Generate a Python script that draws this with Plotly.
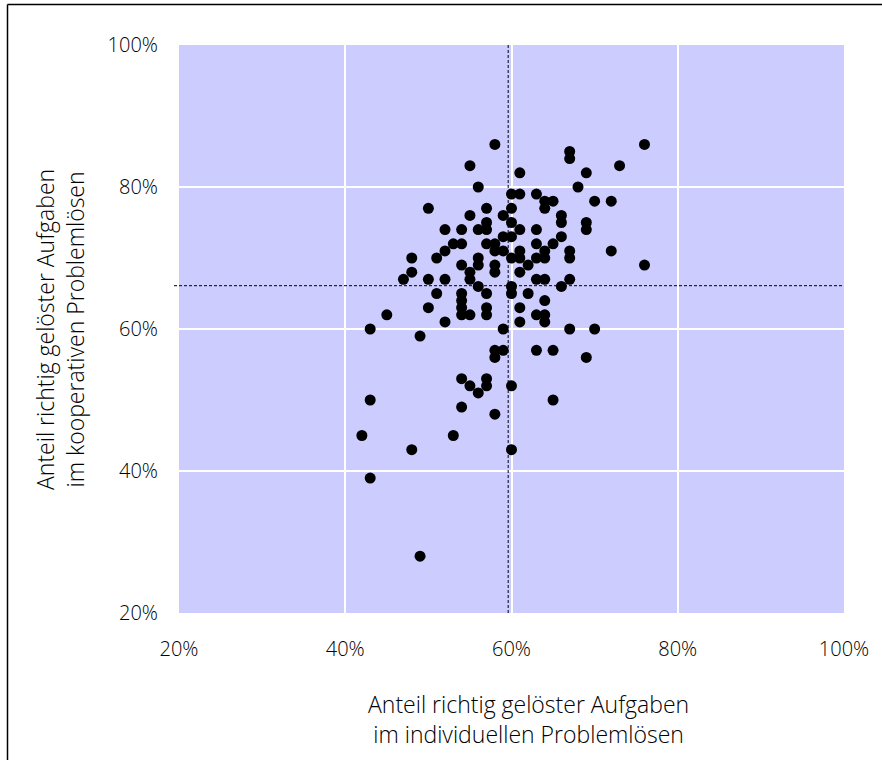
import plotly.graph_objects as go

# Anteil richtig gelöster Aufgaben (in %)
indiv = [58, 55, 56, 60, 61, 50, 57, 60, 55, 59, 57, 60, 52, 54, 56, 57, 59, 60, 53, 54,
         57, 58, 52, 58, 59, 61, 48, 51, 56, 60, 54, 56, 58, 48, 55, 58, 61, 47, 50, 52,
         55, 56, 60, 60, 51, 54, 57, 54, 54, 50, 57, 61, 54, 55, 57, 45, 52, 61, 43, 59,
         76, 67, 67, 73, 61, 69, 68, 63, 64, 65, 70, 72, 64, 66, 66, 69, 69, 61, 63, 66,
         63, 65, 64, 67, 72, 61, 63, 64, 67, 62, 76, 63, 64, 67, 66, 62, 64, 63, 64, 64,
         67, 70,
         63, 65, 69, 65,
         49, 58, 59, 58, 54, 57, 55, 57, 56, 60, 43, 54, 58, 42, 53, 48, 60, 43, 49]
koop = [86, 83, 80, 79, 79, 77, 77, 77, 76, 76, 75, 75, 74, 74, 74, 74, 73, 73, 72, 72,
        72, 72, 71, 71, 71, 71, 70, 70, 70, 70, 69, 69, 69, 68, 68, 68, 68, 67, 67, 67,
        67, 66, 66, 65, 65, 65, 65, 64, 63, 63, 63, 63, 62, 62, 62, 62, 61, 61, 60, 60,
        86, 85, 84, 83, 82, 82, 80, 79, 78, 78, 78, 78, 77, 76, 75, 75, 74, 74, 74, 73,
        72, 72, 71, 71, 71, 70, 70, 70, 70, 69, 69, 67, 67, 67, 66, 65, 64, 62, 62, 61,
        60, 60,
        57, 57, 56, 50,
        59, 57, 57, 56, 53, 53, 52, 52, 51, 52, 50, 49, 48, 45, 45, 43, 43, 39, 28]

mean_indiv = 59.6
mean_koop = 66.1

tick_vals = [20, 40, 60, 80, 100]
tick_text = ["20%", "40%", "60%", "80%", "100%"]

x_title = "Anteil richtig gelöster Aufgaben<br>im individuellen Problemlösen"
y_title = "Anteil richtig gelöster Aufgaben<br>im kooperativen Problemlösen"

FONT = "Open Sans"
TXT = "#000000"

fig = go.Figure()
fig.add_trace(go.Scatter(
    x=indiv, y=koop, mode="markers",
    marker=dict(color="black", size=11, line=dict(width=0)),
    hoverinfo="x+y", showlegend=False, cliponaxis=False,
))

L, R, T, B = 179, 38, 45, 147
W, H = 882, 760
pw, ph = W - L - R, H - T - B

fig.update_layout(
    width=W, height=H,
    margin=dict(l=L, r=R, t=T, b=B),
    paper_bgcolor="white",
    plot_bgcolor="#ccccff",
    font=dict(family=FONT, size=20, color=TXT, weight=300),
    xaxis=dict(range=[20, 100], tickvals=tick_vals, ticktext=tick_text,
               showgrid=True, gridcolor="white", gridwidth=2,
               zeroline=False, showline=False, ticks="",
               ticklabelstandoff=22, tickfont=dict(size=20, color=TXT, weight=300)),
    yaxis=dict(range=[20, 100], tickvals=tick_vals, ticktext=tick_text,
               showgrid=True, gridcolor="white", gridwidth=2,
               zeroline=False, showline=False, ticks="",
               ticklabelstandoff=20, tickfont=dict(size=20, color=TXT, weight=300)),
    shapes=[
        dict(type="line", xref="x", yref="paper", x0=mean_indiv, x1=mean_indiv,
             y0=0, y1=1, line=dict(color="black", width=1, dash="3px,2px")),
        dict(type="line", xref="paper", yref="y", x0=-5 / pw, x1=1, y0=mean_koop,
             y1=mean_koop, line=dict(color="black", width=1, dash="3px,2px")),
        # figure frame (left and top edges)
        dict(type="line", xref="paper", yref="paper",
             x0=(7.5 - L) / pw, x1=(7.5 - L) / pw,
             y0=(H - B - 4.5) / ph, y1=(H - B - H - 5) / ph,
             line=dict(color="black", width=1.5)),
        dict(type="line", xref="paper", yref="paper",
             x0=(7.5 - L) / pw, x1=(W + 5 - L) / pw,
             y0=(H - B - 4.5) / ph, y1=(H - B - 4.5) / ph,
             line=dict(color="black", width=1.5)),
    ],
    annotations=[
        dict(text=x_title, xref="paper", yref="paper",
             x=(528 - L) / pw, y=(H - B - 719) / ph,
             xanchor="center", yanchor="middle", showarrow=False,
             font=dict(size=23, color=TXT, family=FONT, weight=300)),
        dict(text=y_title, xref="paper", yref="paper",
             x=(60 - L) / pw, y=(H - B - 330) / ph, textangle=-90,
             xanchor="center", yanchor="middle", showarrow=False,
             font=dict(size=23, color=TXT, family=FONT, weight=300)),
    ],
)

fig.write_html("out.html")
